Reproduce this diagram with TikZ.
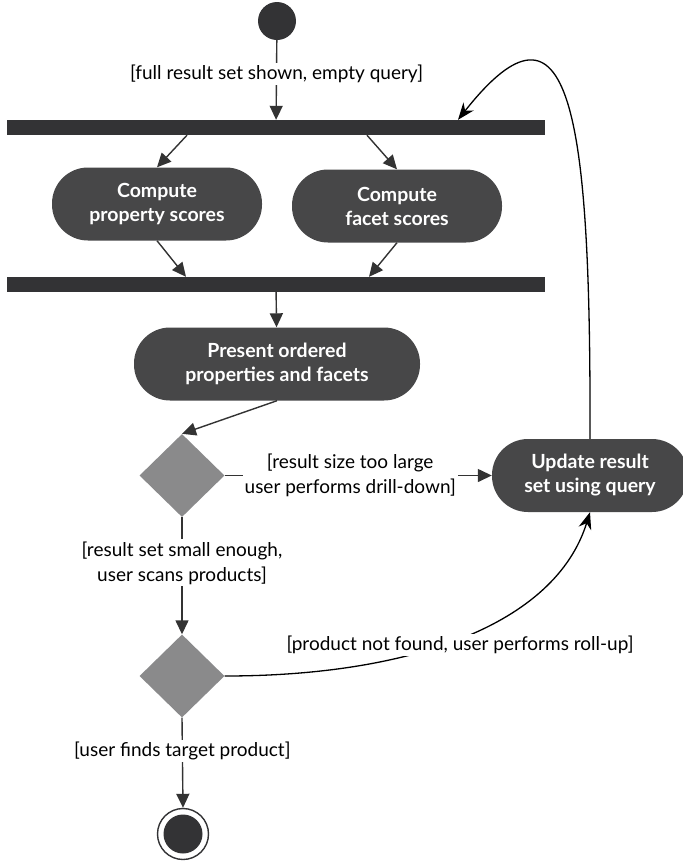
\documentclass[tikz,border=0pt]{standalone}
\usepackage{fontspec}
\setmainfont{Lato}
\usetikzlibrary{shapes.geometric,arrows.meta}
\definecolor{barcol}{HTML}{333335}
\definecolor{actcol}{HTML}{474748}
\definecolor{deccol}{HTML}{8A8A8B}
\definecolor{linecol}{HTML}{333333}
\tikzset{
  bar/.style={fill=barcol, minimum width=538pt, minimum height=15pt, inner sep=0pt},
  activity/.style={fill=actcol, text=white, rounded corners=36pt, minimum width=210pt,
    minimum height=73pt, align=center, font=\fontsize{19.5}{24}\selectfont\bfseries},
  decision/.style={diamond, fill=deccol, minimum width=85pt, minimum height=83pt, inner sep=0pt},
  guard/.style={fill=white, align=center, inner sep=2pt, font=\fontsize{19}{25}\selectfont},
  flow/.style={draw=linecol, line width=1.4pt, -{Triangle[length=14pt,width=13pt]}},
  loop/.style={draw=black, line width=1.3pt, -{Stealth[length=17pt,width=13pt]}}
}
\begin{document}
\begin{tikzpicture}[x=1pt,y=-1pt]
\useasboundingbox (0,0) rectangle (683,863);

% initial and final states
\node[circle, fill=barcol, minimum size=38pt, inner sep=0pt] (start) at (277,21) {};
\node[circle, draw=barcol, line width=1.4pt, fill=white, minimum size=51pt, inner sep=0pt] (finish) at (183,834) {};
\node[circle, fill=barcol, minimum size=39pt, inner sep=0pt] (finishdot) at (183,834) {};

% fork and join bars
\node[bar] (fork) at (276,127.5) {};
\node[bar] (join) at (276,284.5) {};

% activities
\node[activity] (prop) at (157,204) {Compute\\property scores};
\node[activity] (facet) at (397,206) {Compute\\facet scores};
\node[activity, minimum width=286pt] (present) at (277,364) {Present ordered\\properties and facets};
\node[activity, minimum width=196pt] (update) at (590,475.5) {Update result\\set using query};

% decisions
\node[decision] (dec1) at (182,475.5) {};
\node[decision] (dec2) at (182,676) {};

% flows
\draw[flow] (start) -- node[guard, pos=0.42] {[full result set shown, empty query]} (fork);
\draw[flow] ([xshift=-89pt]fork.south) -- (prop.north);
\draw[flow] ([xshift=91pt]fork.south) -- (facet.north);
\draw[flow] (prop.south) -- ([xshift=-90pt]join.north);
\draw[flow] (facet.south) -- ([xshift=93pt]join.north);
\draw[flow] (join) -- (present);
\draw[flow] (present.south) -- (dec1.north);
\draw[flow] (dec1.east) -- node[guard, pos=0.47] {[result size too large\\user performs drill-down]} (update.west);
\draw[flow] (dec1.south) -- node[guard, pos=0.39] {[result set small enough,\\user scans products]} (dec2.north);
\draw[flow] (dec2.south) -- node[guard, pos=0.37] {[user finds target product]} (finish.north);

% loop back to the fork after updating the result set
\draw[loop] (update.north) .. controls (591,110) and (570,-22) .. ([xshift=182pt]fork.north);

% roll-up back to the update activity
\draw[loop] (dec2.east) .. controls (410,676) and (555,625) .. (update.south);
\node[guard] (rollup) at (460,645) {[product not found, user performs roll-up]};
\end{tikzpicture}
\end{document}
